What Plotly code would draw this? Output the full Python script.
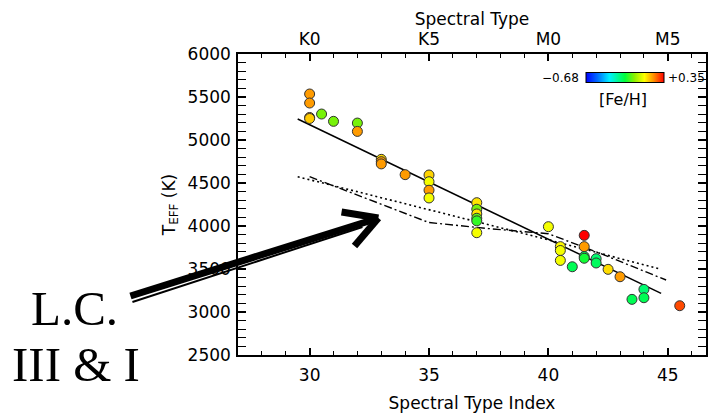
import plotly.graph_objects as go

# Spectral type index, effective temperature (K) and metallicity of each star
spt_index = [30, 30, 30, 30, 30.5, 31, 32, 32, 33, 33, 33, 34,
             35, 35, 35, 35, 37, 37, 37, 37, 37, 37,
             40, 40.5, 40.5, 40.5, 41, 41.5, 41.5, 41.5, 41.5,
             42, 42, 42.5, 43, 43.5, 44, 44, 45.5]
teff = [5535, 5430, 5262, 5250, 5302, 5217, 5197, 5100, 4775, 4748, 4722, 4597,
        4593, 4515, 4416, 4326, 4271, 4195, 4140, 4090, 4060, 3922,
        3992, 3760, 3715, 3600, 3526, 3891, 3760, 3645, 3625,
        3620, 3570, 3496, 3410, 3147, 3263, 3166, 3073]
feh = [0.20, 0.20, 0.20, 0.15, -0.06, -0.06, -0.06, 0.20, 0.13, 0.20, 0.20, 0.20,
       0.14, 0.08, 0.20, 0.08, 0.12, -0.06, 0.12, -0.08, -0.12, 0.08,
       0.08, 0.10, 0.08, 0.08, -0.19, 0.35, 0.20, -0.19, -0.15,
       -0.22, -0.20, 0.13, 0.20, -0.19, -0.22, -0.19, 0.28]
feh_min, feh_max = -0.68, 0.35

# Linear fit to the dwarfs
fit_x = [29.5, 44.72]
fit_y = [5244, 3217]

# Giant / supergiant relations
dot_x = [29.5, 33, 37, 40, 44.72]
dot_y = [4573, 4331, 4050, 3840, 3496]
dashdot_x = [30, 35, 37.5, 40, 42, 44.93]
dashdot_y = [4573, 4040, 3970, 3910, 3700, 3372]

# Axis ticks
x_major = [30, 35, 40, 45]
spt_labels = ["K0", "K5", "M0", "M5"]
y_major = [2500, 3000, 3500, 4000, 4500, 5000, 5500, 6000]

rainbow = [[0.0, "rgb(0,0,255)"], [0.15, "rgb(0,110,255)"], [0.3, "rgb(0,240,255)"],
           [0.5, "rgb(0,255,60)"], [0.62, "rgb(140,240,0)"], [0.75, "rgb(255,255,0)"],
           [0.87, "rgb(255,140,0)"], [1.0, "rgb(255,0,0)"]]

FONT = "DejaVu Sans"
W, H = 717, 419
L, R, T, B = 238, 9, 54, 64


def px(x):
    return (x - L) / (W - L - R)


def py(y):
    return (H - B - y) / (H - T - B)


fig = go.Figure()

fig.add_trace(go.Scatter(x=dot_x, y=dot_y, mode="lines",
                         line=dict(color="black", width=1.6, dash="2px,3px"),
                         hoverinfo="skip", showlegend=False))
fig.add_trace(go.Scatter(x=dashdot_x, y=dashdot_y, mode="lines",
                         line=dict(color="black", width=1.4, dash="8px,3px,2px,3px"),
                         hoverinfo="skip", showlegend=False))
fig.add_trace(go.Scatter(x=fit_x, y=fit_y, mode="lines",
                         line=dict(color="black", width=1.5),
                         hoverinfo="skip", showlegend=False))
fig.add_trace(go.Scatter(
    x=spt_index, y=teff, mode="markers", showlegend=False,
    marker=dict(size=10, color=feh, cmin=feh_min, cmax=feh_max, colorscale=rainbow,
                line=dict(color="#333333", width=1),
                colorbar=dict(orientation="h", x=px(627), xanchor="center",
                              y=py(78), yanchor="middle", lenmode="pixels", len=78,
                              thickness=10, xpad=0, ypad=0, outlinewidth=1,
                              outlinecolor="black", showticklabels=False, ticks=""))))
# invisible trace carrying the top spectral-type axis
fig.add_trace(go.Scatter(x=[30], y=[4000], xaxis="x2", mode="markers",
                         marker=dict(opacity=0), hoverinfo="skip", showlegend=False))

tickfont = dict(family=FONT, size=17, color="black")
fig.update_layout(
    width=W, height=H, margin=dict(l=L, r=R, t=T, b=B),
    paper_bgcolor="white", plot_bgcolor="white",
    xaxis=dict(range=[27, 46.6], tickvals=x_major, ticks="inside", ticklen=7,
               tickwidth=1.5, tickcolor="black", showline=True, linewidth=1.5,
               linecolor="black", showgrid=False, zeroline=False, tickfont=tickfont,
               ticklabelstandoff=4,
               minor=dict(dtick=1, tick0=0, ticks="inside", ticklen=4, tickwidth=1.2,
                          tickcolor="black", showgrid=False),
               title=dict(text="Spectral Type Index", font=tickfont, standoff=13)),
    xaxis2=dict(overlaying="x", side="top", matches="x", tickvals=x_major,
                ticktext=spt_labels, ticks="inside", ticklen=7, tickwidth=1.5,
                tickcolor="black", showline=True, linewidth=1.5, linecolor="black",
                showgrid=False, zeroline=False, tickfont=tickfont, ticklabelstandoff=0,
                minor=dict(dtick=1, tick0=0, ticks="inside", ticklen=4, tickwidth=1.2,
                           tickcolor="black", showgrid=False),
                title=dict(text="Spectral Type", font=tickfont, standoff=0)),
    yaxis=dict(range=[2500, 6000], tickvals=y_major, ticks="inside", ticklen=8,
               tickwidth=1.5, tickcolor="black", showline=True, linewidth=1.5,
               linecolor="black", mirror="allticks", showgrid=False, zeroline=False,
               tickfont=tickfont, ticklabelstandoff=2,
               minor=dict(dtick=100, tick0=0, ticks="inside", ticklen=4, tickwidth=1.2,
                          tickcolor="black", showgrid=False),
               title=dict(text="T<sub>EFF</sub> (K)", font=tickfont, standoff=8)),
)

# colour bar end values and label
cb_font = dict(family=FONT, size=12, color="black")
fig.add_annotation(text="\u22120.68", x=px(582), y=py(78), xref="paper", yref="paper",
                   xanchor="right", yanchor="middle", showarrow=False, font=cb_font)
fig.add_annotation(text="+0.35", x=px(668), y=py(78), xref="paper", yref="paper",
                   xanchor="left", yanchor="middle", showarrow=False, font=cb_font)
fig.add_annotation(text="[Fe/H]", x=px(625), y=py(99), xref="paper", yref="paper",
                   xanchor="center", yanchor="middle", showarrow=False,
                   font=dict(family=FONT, size=16, color="black"))

# luminosity class label and arrow pointing at the giant relations
serif = dict(family="Liberation Serif", size=49, color="black")
fig.add_annotation(text="L.C.", x=px(74), y=py(308), xref="paper", yref="paper",
                   xanchor="center", yanchor="middle", showarrow=False, font=serif)
fig.add_annotation(text="III &amp; I", x=px(75), y=py(364), xref="paper", yref="paper",
                   xanchor="center", yanchor="middle", showarrow=False, font=serif)


def seg(x0, y0, x1, y1, w):
    fig.add_shape(type="line", xref="paper", yref="paper",
                  x0=px(x0), y0=py(y0), x1=px(x1), y1=py(y1),
                  line=dict(color="black", width=w), layer="above")


seg(130, 296, 376, 219, 7)
seg(132, 302, 363, 227, 2)
seg(379, 218, 342, 212, 7)
seg(379, 218, 355, 246, 7)

fig.write_html("out.html")
